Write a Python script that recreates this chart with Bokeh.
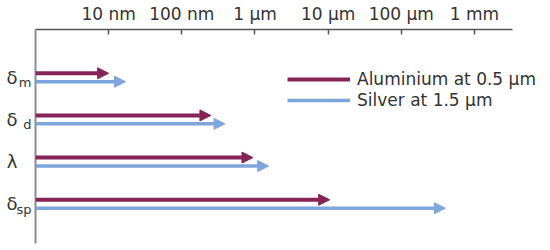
from bokeh.plotting import figure
from bokeh.models import (Arrow, NormalHead, ColumnDataSource, FixedTicker, LinearAxis,
                          Legend, LegendItem, Range1d)
from bokeh.embed import file_html
from bokeh.resources import INLINE

# ---- data (lengths in nm) ----
row_symbols = ["δ", "δ", "λ", "δ"]
row_subscripts = ["m", "d", "", "sp"]
aluminium_nm = [10, 250, 940, 10500]
silver_nm = [17, 390, 1540, 400000]
tick_values_nm = [10, 100, 1000, 10000, 100000, 1000000]
tick_labels = ["10 nm", "100 nm", "1 µm", "10 µm", "100 µm", "1 mm"]
series_labels = ["Aluminium at 0.5 µm", "Silver at 1.5 µm"]

# ---- style ----
AL_COLOR = "#862457"
AG_COLOR = "#7fa6dc"
TEXT_COLOR = "#333333"
FONT = "DejaVu Sans"
AXIS_START = 1.0
AXIS_END = 10 ** 6.52
PLOT_END = 10 ** 7.04

n = len(row_symbols)
row_pos = [n - i for i in range(n)]  # top row highest

p = figure(width=550, height=250, x_axis_type="log", x_axis_location="above",
           x_range=Range1d(AXIS_START, PLOT_END), y_range=Range1d(0.063, 5.138),
           output_backend="svg", toolbar_location=None,
           min_border_left=35, min_border_right=0, min_border_top=29, min_border_bottom=7)
p.outline_line_color = None
p.xgrid.visible = False
p.ygrid.visible = False

xa = p.xaxis[0]
xa.bounds = (AXIS_START, AXIS_END)
xa.ticker = FixedTicker(ticks=tick_values_nm, minor_ticks=[])
xa.major_label_overrides = {v: lbl for v, lbl in zip(tick_values_nm, tick_labels)}
xa.major_tick_in = 5
xa.major_tick_out = 0
xa.minor_tick_line_color = None
xa.axis_line_color = "#555555"
xa.axis_line_width = 1.5
xa.major_tick_line_color = "#555555"
xa.major_tick_line_width = 1.5
xa.major_label_standoff = 6
xa.major_label_text_font = FONT
xa.major_label_text_font_size = "17px"
xa.major_label_text_color = TEXT_COLOR

# inner left axis: axis line + subscripts
sub_ticks = [r - 0.12 for r, s in zip(row_pos, row_subscripts) if s]
sub_texts = [s for s in row_subscripts if s]
ya = p.yaxis[0]
ya.ticker = FixedTicker(ticks=sub_ticks, minor_ticks=[])
ya.major_label_overrides = {t: s for t, s in zip(sub_ticks, sub_texts)}
ya.major_tick_line_color = None
ya.minor_tick_line_color = None
ya.major_tick_in = 0
ya.major_tick_out = 0
ya.major_label_standoff = 4
ya.major_label_orientation = "horizontal"
ya.major_label_text_font = FONT
ya.major_label_text_font_size = "13px"
ya.major_label_text_color = TEXT_COLOR
ya.axis_line_color = "#8c8c8c"
ya.axis_line_width = 2

# outer left axis: row symbols
sym_axis = LinearAxis(ticker=FixedTicker(ticks=row_pos, minor_ticks=[]),
                      major_label_overrides={r: s for r, s in zip(row_pos, row_symbols)},
                      axis_line_color=None, major_tick_line_color=None,
                      minor_tick_line_color=None, major_tick_in=0, major_tick_out=0,
                      major_label_standoff=-4, major_label_orientation="horizontal",
                      major_label_text_font=FONT, major_label_text_font_size="18px",
                      major_label_text_color=TEXT_COLOR)
p.add_layout(sym_axis, "left")

al_src = ColumnDataSource(dict(x0=[AXIS_START] * n, x1=aluminium_nm, y=[r + 0.1 for r in row_pos]))
ag_src = ColumnDataSource(dict(x0=[AXIS_START] * n, x1=silver_nm, y=[r - 0.1 for r in row_pos]))

p.add_layout(Arrow(end=NormalHead(size=11, fill_color=AL_COLOR, line_color=AL_COLOR, line_width=1),
                   x_start="x0", y_start="y", x_end="x1", y_end="y", source=al_src,
                   line_color=AL_COLOR, line_width=4))
p.add_layout(Arrow(end=NormalHead(size=11, fill_color=AG_COLOR, line_color=AG_COLOR, line_width=1),
                   x_start="x0", y_start="y", x_end="x1", y_end="y", source=ag_src,
                   line_color=AG_COLOR, line_width=3.5))

# legend samples (hidden renderers that carry the line style)
r_al = p.segment(x0="x0", y0="y", x1="x1", y1="y", source=al_src,
                 line_color=AL_COLOR, line_width=4, visible=False)
r_ag = p.segment(x0="x0", y0="y", x1="x1", y1="y", source=ag_src,
                 line_color=AG_COLOR, line_width=3.5, visible=False)
legend = Legend(items=[LegendItem(label=series_labels[0], renderers=[r_al]),
                       LegendItem(label=series_labels[1], renderers=[r_ag])],
                location=(252, 133), glyph_width=63, glyph_height=20, label_standoff=7,
                spacing=1, padding=0, margin=0, border_line_color=None,
                background_fill_alpha=0, inactive_fill_alpha=0, click_policy="none",
                label_text_font=FONT, label_text_font_size="17px",
                label_text_color=TEXT_COLOR)
p.add_layout(legend)

open("out.html", "w").write(file_html(p, INLINE))
